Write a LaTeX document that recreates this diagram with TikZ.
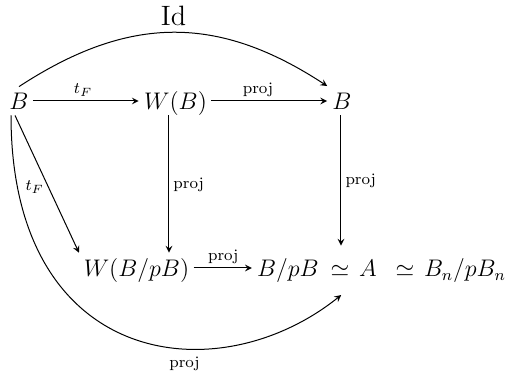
\documentclass[tikz,border=0pt]{standalone}
\usepackage{amsmath,amssymb}
\begin{document}
\begin{tikzpicture}[x=0.5pt,y=-0.5pt,
  obj/.style={anchor=base,inner sep=2pt,text height=9.5pt,text depth=0.5pt,font=\fontsize{12}{14}\selectfont},
  lab/.style={font=\fontsize{8}{9}\selectfont,inner sep=2pt},
  arr/.style={->,>=stealth,line width=0.5pt,shorten >=0.5pt}]
\useasboundingbox (0,0) rectangle (505,380);
\node[obj] (B1) at (19,110) {$B$};
\node[obj] (WB) at (175.5,110) {$W(B)$};
\node[obj] (B2) at (342,110) {$B$};
\node[obj] (WBp) at (136.5,277) {$W(B/pB)$};
\node[obj] (bpb) at (288,277) {$B/pB$};
\node[obj] (iso1) at (340,277) {$\simeq$};
\node[obj] (A) at (368,277) {$A$};
\node[obj] (iso2) at (405,277) {$\simeq$};
\node[obj] (Bn) at (465,277) {$B_n/pB_n$};

\draw[arr] (B1) -- node[lab,above,pos=0.47]{$t_F$} (WB);
\draw[arr] (WB) -- node[lab,above,pos=0.4]{proj} (B2);
\draw[arr] ([xshift=-3.25pt]WB.south) -- node[lab,right,pos=0.5]{proj} ([xshift=-3.25pt]WB.south |- WBp.north);
\draw[arr] ([xshift=-0.5pt]B2.south) -- node[lab,right,pos=0.5]{proj} ([xshift=-0.5pt,yshift=3.5pt]B2.south |- iso1.north);
\draw[arr] ([xshift=-2pt]B1.south) -- node[lab,left,pos=0.52]{$t_F$} (WBp.north west);
\draw[arr] (WBp) -- node[lab,above]{proj} (bpb);
\draw[arr] (B1.north) .. controls +(110,-72) and +(-110,-72) .. node[above,font=\fontsize{14}{16}\selectfont,inner sep=3pt]{Id} (B2.north west);
\draw[arr] ([xshift=-4pt]B1.south) .. controls +(0,252) and +(-125,100) .. node[lab,below,pos=0.63,yshift=-2pt]{proj} ([xshift=1pt,yshift=-6pt]iso1.south);
\end{tikzpicture}
\end{document}
